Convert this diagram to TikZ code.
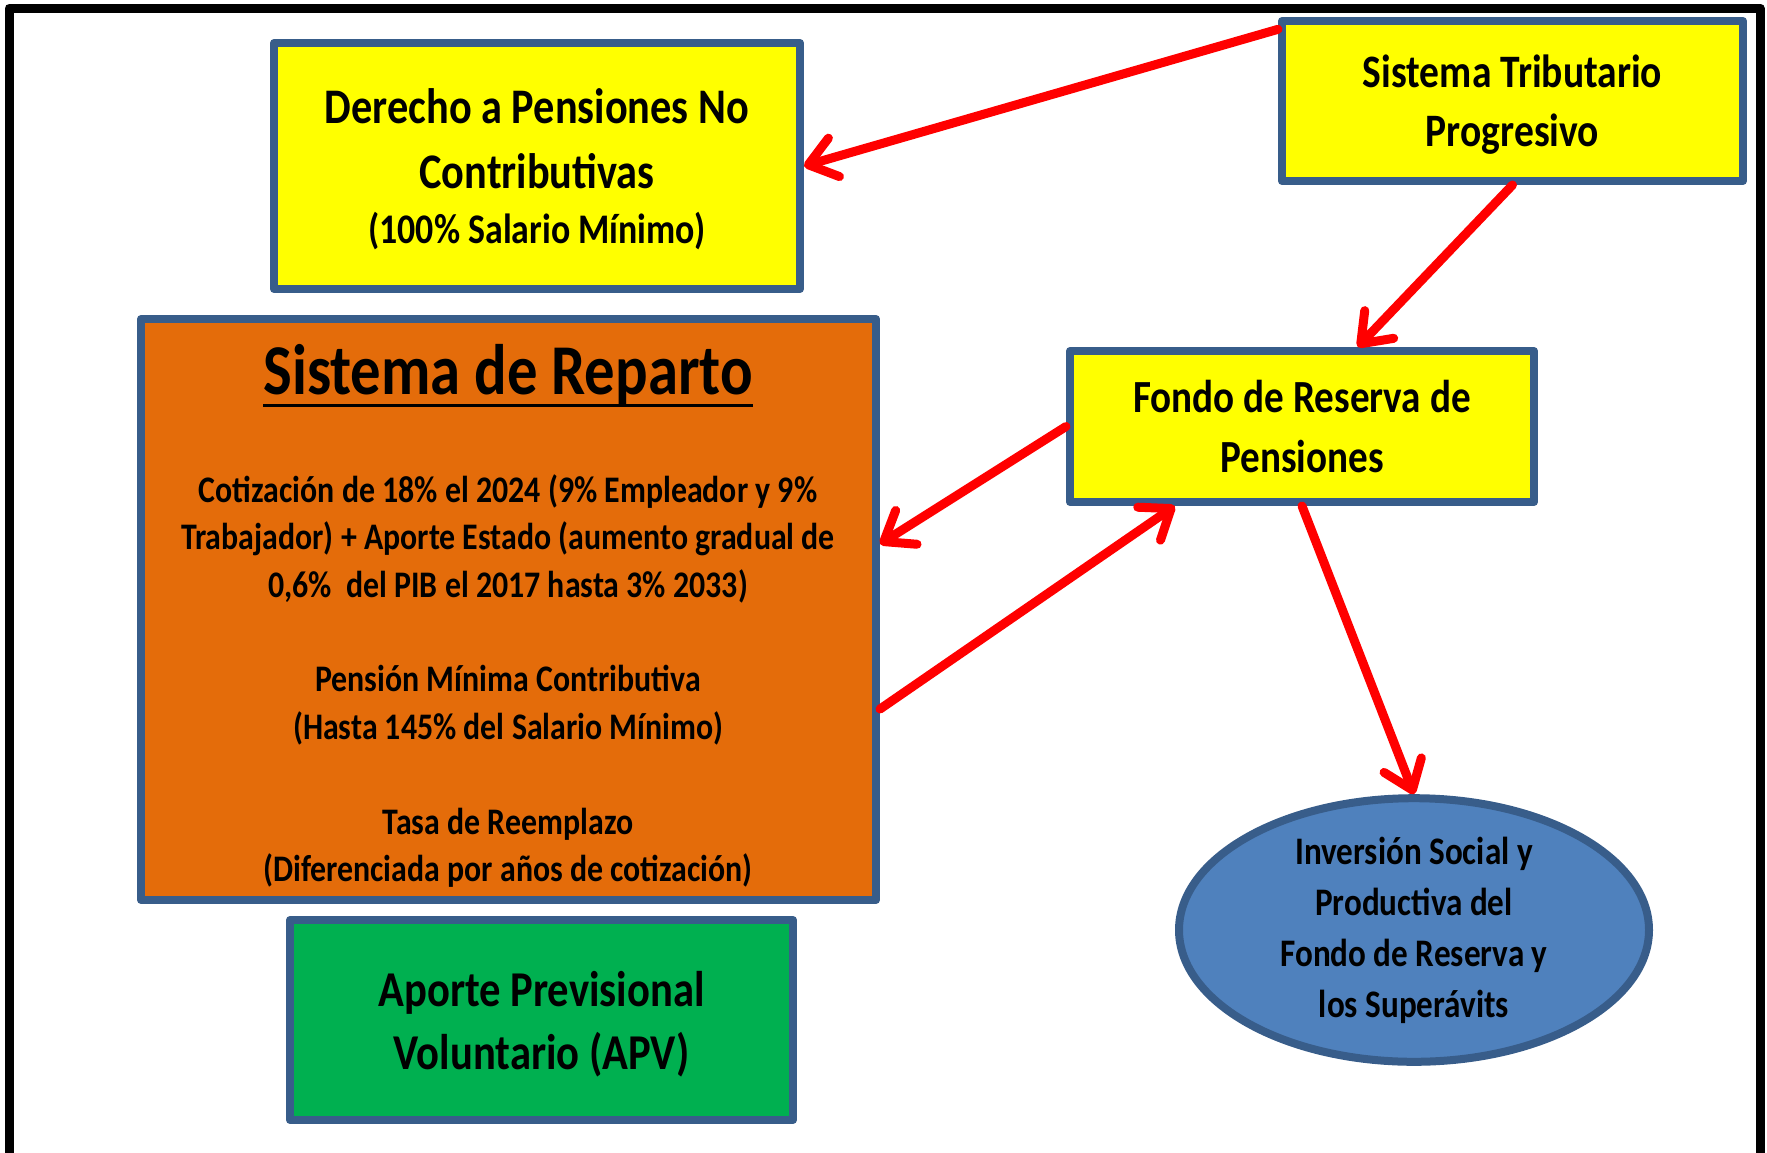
\documentclass[tikz,border=0pt]{standalone}
\usepackage{fontspec}
\setmainfont{Carlito}[FakeStretch=0.85]
\usetikzlibrary{arrows.meta,shapes.geometric}
\definecolor{bordeazul}{HTML}{385D8A}
\definecolor{amarillo}{HTML}{FFFF00}
\definecolor{naranja}{HTML}{E46C0A}
\definecolor{verde}{HTML}{00B050}
\definecolor{celeste}{HTML}{4F81BD}
\definecolor{rojo}{HTML}{FF0000}
\newcommand\tam[2]{\fontsize{#1}{#2}\selectfont\bfseries}
\begin{document}
\begin{tikzpicture}[x=0.3mm,y=-0.3mm,line join=round,
	caja/.style={draw=bordeazul,line width=2.4mm,inner sep=0pt,align=center,text=black},
	flecha/.style={draw=rojo,line width=2.7mm,line cap=round,-{Straight Barb[length=8mm,width=12mm,line cap=round,line join=round]}}]
	\def\u{0.3mm}
	\useasboundingbox (0,0) rectangle (1767,1153);
	\draw[line width=9*\u] (9,1170)--(9,8)--(1760,8)--(1760,1170);
	% cajas
	\node[caja,fill=amarillo,minimum width=526*\u,minimum height=246*\u,text depth=0pt,font={\tam{42.5}{55.5}}] (der) at (537,166)
		{Derecho a Pensiones No\\Contributivas\\[-8pt]{\tam{36}{55.5}(100\% Salario Mínimo)}};
	\node[caja,fill=amarillo,minimum width=461*\u,minimum height=160*\u,text depth=0pt,font={\tam{39.7}{50.4}}] (st) at (1512.5,101)
		{Sistema Tributario\\Progresivo};
	\node[caja,fill=amarillo,minimum width=464*\u,minimum height=151*\u,font={\tam{39.3}{50.4}}] (fondo) at (1302,426.5)
		{Fondo de Reserva de\\Pensiones};
	\node[caja,fill=naranja,minimum width=735*\u,minimum height=581*\u] (rep) at (508.5,609.5) {};
	\node[inner sep=0pt,font={\tam{61}{70}}] (tit) at (508,375) {Sistema de Reparto};
	\draw[line width=3*\u] ([yshift=-11*\u]tit.base west)--([yshift=-11*\u]tit.base east);
	\node[inner sep=0pt,align=center,font={\tam{32}{40.5}}] (cuerpo) at (508,681)
		{Cotización de 18\% el 2024 (9\% Empleador y 9\%\\Trabajador) + Aporte Estado (aumento gradual de\\0,6\%\ \ del PIB el 2017 hasta 3\% 2033)\\[40.5pt]
		Pensión Mínima Contributiva\\(Hasta 145\% del Salario Mínimo)\\[40.5pt]
		Tasa de Reemplazo\\(Diferenciada por años de cotización)};
	\node[caja,fill=verde,minimum width=503*\u,minimum height=200*\u,text depth=0pt,font={\tam{42.8}{53.8}}] (apv) at (541.5,1020)
		{Aporte Previsional\\Voluntario (APV)};
	\node[caja,ellipse,fill=celeste,minimum width=470*\u,minimum height=250*\u,font={\tam{33.3}{43.5}}] (inv) at (1414,930)
		{Inversión Social y\\Productiva del\\Fondo de Reserva y\\los Superávits};
	% flechas
	\draw[flecha] (st.163)--(der.east);
	\draw[flecha] (st.south)--(fondo.55);
	\draw[flecha] (fondo.west)--(rep.10);
	\draw[flecha] (rep.-15)--(fondo.212);
	\draw[flecha] (fondo.south)--(inv.north);
\end{tikzpicture}
\end{document}
